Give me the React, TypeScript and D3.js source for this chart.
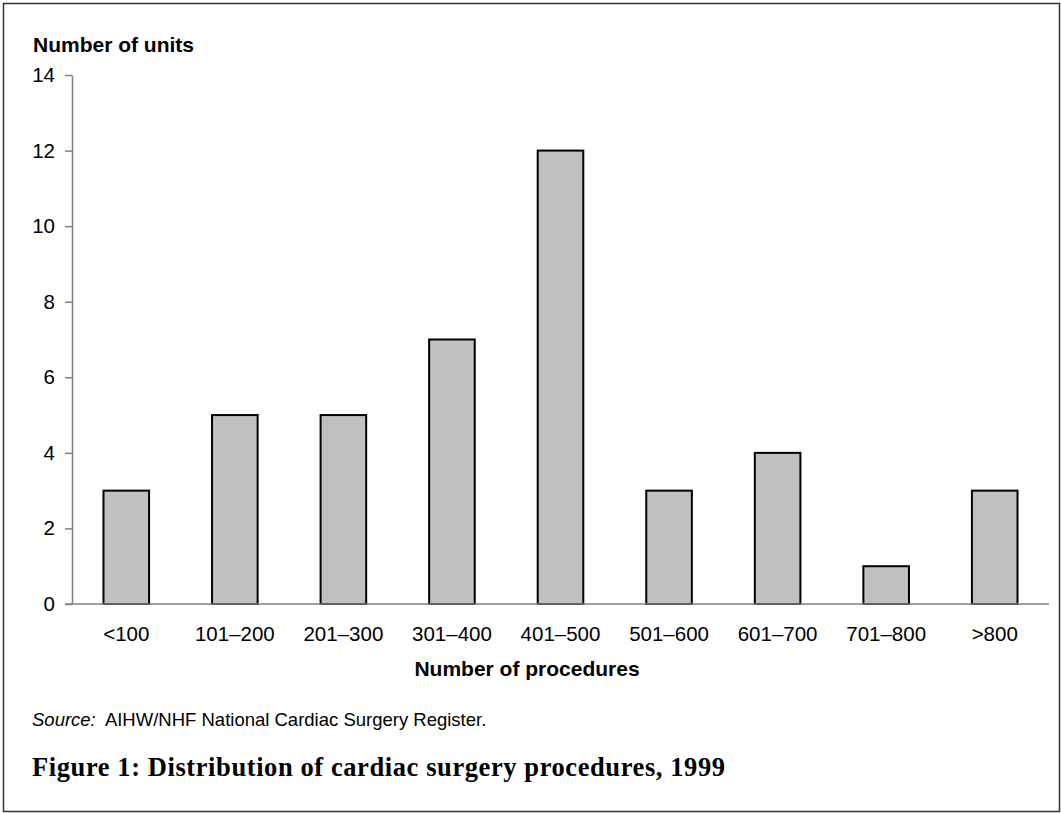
import React, { useRef, useEffect } from "react";
import * as d3 from "d3";

const categories = ["<100", "101–200", "201–300", "301–400", "401–500", "501–600", "601–700", "701–800", ">800"];
const units = [3, 5, 5, 7, 12, 3, 4, 1, 3];
const yTicks = [0, 2, 4, 6, 8, 10, 12, 14];

const W = 1061;
const H = 813;
const SANS = "Arial, 'Liberation Sans', sans-serif";

function App() {
  const svgRef = useRef<SVGSVGElement>(null);

  useEffect(() => {
    const svg = d3.select(svgRef.current);
    svg.selectAll("*").remove();

    const left = 72, right = 1049, top = 75, bottom = 604;

    const x = d3.scaleBand<string>()
      .domain(categories)
      .range([left, right])
      .paddingInner(0.58)
      .paddingOuter(0.29);

    const y = d3.scaleLinear().domain([0, 14]).range([bottom, top]);

    // frame
    svg.append("rect")
      .attr("x", 3.5).attr("y", 3.5)
      .attr("width", 1056).attr("height", 808)
      .attr("fill", "white").attr("stroke", "#333").attr("stroke-width", 1.5);

    // bars
    svg.append("g")
      .selectAll("rect")
      .data(units)
      .join("rect")
      .attr("x", (d, i) => x(categories[i])!)
      .attr("y", (d) => y(d))
      .attr("width", x.bandwidth())
      .attr("height", (d) => y(0) - y(d))
      .attr("fill", "#c0c0c0")
      .attr("stroke", "#000")
      .attr("stroke-width", 2);

    // y axis
    const yAxis = svg.append("g")
      .attr("transform", `translate(${left},0)`)
      .call(d3.axisLeft(y).tickValues(yTicks).tickSize(7).tickPadding(10).tickSizeOuter(0));
    yAxis.select(".domain").attr("stroke", "#808080").attr("stroke-width", 1.5);
    yAxis.selectAll(".tick line").attr("stroke", "#808080").attr("stroke-width", 1.5);
    yAxis.selectAll("text")
      .attr("font-family", SANS)
      .attr("font-size", 20.5)
      .attr("fill", "#000");

    // x baseline
    svg.append("line")
      .attr("x1", left - 7).attr("x2", right)
      .attr("y1", y(0)).attr("y2", y(0))
      .attr("stroke", "#808080").attr("stroke-width", 1.5);

    // x labels
    svg.append("g")
      .selectAll("text")
      .data(categories)
      .join("text")
      .attr("x", (d) => x(d)! + x.bandwidth() / 2)
      .attr("y", 641)
      .attr("text-anchor", "middle")
      .attr("font-family", SANS)
      .attr("font-size", 20.5)
      .text((d) => d);

    svg.append("text")
      .attr("x", 33).attr("y", 52)
      .attr("font-family", SANS)
      .attr("font-size", 21).attr("font-weight", "bold")
      .text("Number of units");

    svg.append("text")
      .attr("x", 527).attr("y", 676)
      .attr("text-anchor", "middle")
      .attr("font-family", SANS)
      .attr("font-size", 21).attr("font-weight", "bold")
      .text("Number of procedures");

    const src = svg.append("text")
      .attr("x", 32).attr("y", 726)
      .attr("font-family", SANS)
      .attr("font-size", 18.5);
    src.append("tspan").attr("font-style", "italic").text("Source:");
    src.append("tspan").attr("dx", 5).text(" AIHW/NHF National Cardiac Surgery Register.");

    svg.append("text")
      .attr("x", 32).attr("y", 776)
      .attr("font-family", "'Liberation Serif', 'DejaVu Serif', serif")
      .attr("font-size", 26.5).attr("font-weight", "bold")
      .attr("textLength", 693).attr("lengthAdjust", "spacing")
      .text("Figure 1: Distribution of cardiac surgery procedures, 1999");
  }, []);

  return (
    <svg ref={svgRef} width={W} height={H} style={{ position: "absolute", left: 0, top: 0 }}></svg>
  );
}

export default App;
